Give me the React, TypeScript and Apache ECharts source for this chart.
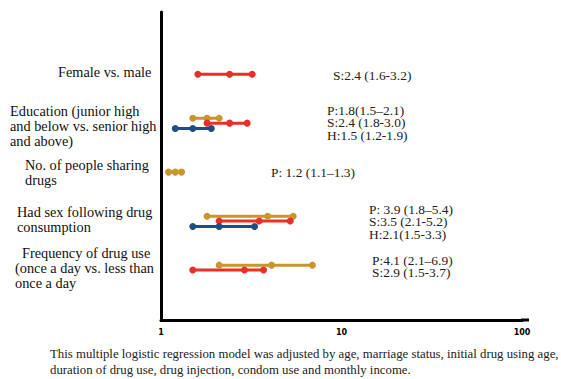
import React, { useEffect, useRef } from "react";
import * as echarts from "echarts";

// ---- data ----
const groups = [
  "Female vs. male",
  "Education (junior high and below vs. senior high and above)",
  "No. of people sharing drugs",
  "Had sex following drug consumption",
  "Frequency of drug use (once a day vs. less than once a day",
];
const seriesKeys = ["P", "S", "H"];
const pEst = [null, 1.8, 1.2, 3.9, 4.1];
const pLow = [null, 1.5, 1.1, 1.8, 2.1];
const pHigh = [null, 2.1, 1.3, 5.4, 6.9];
const sEst = [2.4, 2.4, null, 3.5, 2.9];
const sLow = [1.6, 1.8, null, 2.1, 1.5];
const sHigh = [3.2, 3.0, null, 5.2, 3.7];
const hEst = [null, 1.5, null, 2.1, null];
const hLow = [null, 1.2, null, 1.5, null];
const hHigh = [null, 1.9, null, 3.3, null];
const xTicks = [1, 10, 100];

const groupLabelLines = [
  ["Female vs. male"],
  ["Education (junior high", "and below vs. senior high", "and above)"],
  ["No. of people sharing", "drugs"],
  ["Had sex following drug", "consumption"],
  ["Frequency of drug use", "(once a day vs. less than", "once a day"],
];
const annotations = [
  ["S:2.4 (1.6-3.2)"],
  ["P:1.8(1.5\u20132.1)", "S:2.4 (1.8-3.0)", "H:1.5 (1.2-1.9)"],
  ["P: 1.2 (1.1\u20131.3)"],
  ["P: 3.9 (1.8\u20135.4)", "S:3.5 (2.1-5.2)", "H:2.1(1.5-3.3)"],
  ["P:4.1 (2.1\u20136.9)", "S:2.9 (1.5-3.7)"],
];
const footnote = [
  "This multiple logistic regression model was adjusted by age, marriage status, initial drug using age,",
  "duration of drug use, drug injection, condom use and monthly income.",
];

// ---- layout / style ----
const colors: Record<string, string> = { P: "#c9962d", S: "#e8302a", H: "#1f4d82" };
const offsets: Record<string, number> = { P: -0.1, S: 0, H: 0.11 };
const labelLayout = [
  [{ x: 58, y: 72 }],
  [{ x: 10, y: 111 }, { x: 10, y: 126 }, { x: 10, y: 141 }],
  [{ x: 25, y: 165 }, { x: 25, y: 180 }],
  [{ x: 17, y: 212 }, { x: 17, y: 227 }],
  [{ x: 22, y: 253 }, { x: 15, y: 268 }, { x: 15, y: 283 }],
];
const annLayout = [
  { x: 333, y: 76 },
  { x: 327, y: 111 },
  { x: 271, y: 173 },
  { x: 369, y: 210 },
  { x: 372, y: 261 },
];

export default function App() {
  const ref = useRef<HTMLDivElement>(null);
  useEffect(() => {
    if (!ref.current) return;
    const chart = echarts.init(ref.current, undefined, { renderer: "svg" });
    const est: Record<string, (number | null)[]> = { P: pEst, S: sEst, H: hEst };
    const low: Record<string, (number | null)[]> = { P: pLow, S: sLow, H: hLow };
    const high: Record<string, (number | null)[]> = { P: pHigh, S: sHigh, H: hHigh };
    const series: any[] = [];
    groups.forEach((g, gi) => {
      const present = seriesKeys.filter((k) => est[k][gi] != null);
      present.forEach((k) => {
        const yv = gi + 1 + (present.length > 1 ? offsets[k] : 0);
        series.push({
          type: "line",
          name: k + "-" + gi,
          data: [
            [low[k][gi], yv],
            [est[k][gi], yv],
            [high[k][gi], yv],
          ],
          symbol: "circle",
          symbolSize: 7,
          itemStyle: { color: colors[k] },
          lineStyle: { color: colors[k], width: 3 },
          silent: true,
        });
      });
    });

    const graphic: any[] = [];
    groupLabelLines.forEach((lines, gi) => {
      lines.forEach((t, li) => {
        const p = labelLayout[gi][li];
        graphic.push({
          type: "text",
          x: p.x,
          y: p.y,
          style: {
            text: t,
            font: "14.3px 'Liberation Serif'",
            fill: "#111",
            verticalAlign: "middle",
          },
        });
      });
    });
    annotations.forEach((lines, gi) => {
      lines.forEach((t, li) => {
        const p = annLayout[gi];
        graphic.push({
          type: "text",
          x: p.x,
          y: p.y + li * 12.5,
          scaleX: 1.12,
          style: {
            text: t,
            font: "12px 'Liberation Serif'",
            fill: "#222",
            verticalAlign: "middle",
          },
        });
      });
    });
    footnote.forEach((t, i) => {
      graphic.push({
        type: "text",
        x: 50,
        y: 354 + i * 16,
        style: {
          text: t,
          font: "12.8px 'Liberation Serif'",
          fill: "#222",
          verticalAlign: "middle",
        },
      });
    });
    graphic.push({
      type: "line",
      shape: { x1: 521, y1: 320, x2: 529, y2: 320 },
      style: { stroke: "#000", lineWidth: 3 },
    });

    chart.setOption({
      animation: false,
      grid: { left: 161, top: 12, right: 39, bottom: 59, containLabel: false },
      xAxis: {
        type: "log",
        logBase: 10,
        position: "bottom",
        min: xTicks[0],
        max: xTicks[xTicks.length - 1],
        axisLine: { show: true, onZero: false, lineStyle: { color: "#000", width: 3 } },
        axisTick: { show: true, length: 2, lineStyle: { color: "#000", width: 2 } },
        splitLine: { show: false },
        axisLabel: {
          color: "#000",
          fontFamily: "DejaVu Sans",
          fontWeight: "bold",
          fontSize: 8,
          margin: 8,
        },
      },
      yAxis: {
        type: "value",
        inverse: true,
        position: "left",
        min: -0.27,
        max: 6.02,
        axisLine: { show: true, onZero: false, lineStyle: { color: "#000", width: 3 } },
        axisTick: { show: false },
        axisLabel: { show: false },
        splitLine: { show: false },
      },
      series,
      graphic,
    });
    return () => chart.dispose();
  }, []);
  return (
    <div
      ref={ref}
      style={{ position: "absolute", left: 0, top: 0, width: 561, height: 379 }}
    />
  );
}
